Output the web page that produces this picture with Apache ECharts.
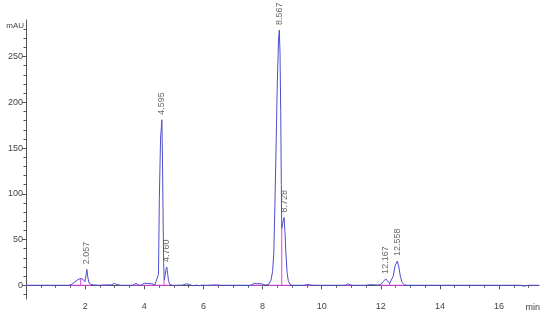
<!DOCTYPE html>
<html lang="en">
<head>
<meta charset="UTF-8">
<title>Chromatogram</title>
<script src="https://cdn.jsdelivr.net/npm/echarts@6/dist/echarts.min.js"></script>
<style>
	html, body { margin: 0; padding: 0; background: #fff; }
	#chart { width: 550px; height: 322px; }
</style>
</head>
<body>
<div id="chart"></div>
<script type="text/javascript">
// signal trace (time in min, signal in mAU)
var times = [0, 0.5, 1.0, 1.45, 1.55, 1.65, 1.75, 1.85, 1.93, 1.99, 2.03, 2.057, 2.09, 2.13, 2.2, 2.3, 2.5, 2.7, 2.9, 2.98,
	3.06, 3.2, 3.6, 3.66, 3.72, 3.78, 3.85, 3.93, 4.0, 4.06, 4.12, 4.18, 4.24, 4.3, 4.36, 4.42, 4.48, 4.51, 4.55, 4.595,
	4.615, 4.635, 4.655, 4.675, 4.70, 4.735, 4.76, 4.79, 4.82, 4.86, 4.95, 5.3, 5.4, 5.46, 5.53, 5.6, 5.68, 5.76, 5.85, 5.95,
	6.1, 6.4, 6.6, 7.6, 7.66, 7.72, 7.78, 7.84, 7.9, 7.96, 8.02, 8.1, 8.2, 8.28, 8.34, 8.38, 8.42, 8.46, 8.50, 8.54,
	8.567, 8.59, 8.615, 8.635, 8.65, 8.69, 8.728, 8.76, 8.79, 8.83, 8.87, 8.93, 9.0, 9.4, 9.5, 9.58, 9.66, 9.8, 10.8, 10.88,
	10.96, 11.05, 11.5, 11.65, 11.75, 11.9, 12.0, 12.08, 12.167, 12.23, 12.30, 12.36, 12.42, 12.48, 12.558, 12.61, 12.66, 12.72, 12.8, 12.9,
	14.0, 16.0, 16.75, 16.82, 16.88, 17.0, 17.05, 17.1, 17.35];
var signal = [0, 0, 0, 0, 1, 3.5, 6, 7.5, 6.5, 4, 11, 17.5, 9, 2.5, 1, 0.3, 0, 0.4, 0.5, 2,
	1, 0, 0, 0.6, 2, 0.3, -0.3, 0.8, 2.2, 0.5, 2, 0.4, 1.8, 2.5, 0.5, 1, 12, 95, 160, 181,
	140, 80, 25, 6, 10, 17, 20, 13, 5, 1, 0, 0.2, 1.5, 2.8, 1, 0, -0.6, 0.3, -0.5, 0.2,
	0, 0.3, 0, 0, 1.2, 2, 0.3, 1.8, 0.5, 1.6, 0.2, 0.3, 1, 5, 15, 35, 90, 155, 222, 268,
	279, 255, 190, 110, 62, 69, 74, 58, 35, 14, 5, 1, 0, 0, 0.6, 0.8, 0.2, 0, 0, 1.6,
	0.6, 0, 0, 0.8, 0.5, 0.3, 1, 4, 7, 5, 2, 3, 10, 21, 26.5, 20, 10, 3, 0.5, 0,
	0, 0, 0, -1, 0, 0, -0.7, 0, 0];

// integrated peaks
var peakLabels = ['2.057', '4.595', '4.760', '8.567', '8.728', '12.167', '12.558'];
var peakTimes = [2.057, 4.595, 4.760, 8.567, 8.728, 12.167, 12.558];
var peakHeights = [17.5, 181, 20, 279, 74, 7, 26.5];

// baseline segments [start, end] and drop lines [time, height]
var baseStart = [1.5, 2.55, 3.6, 4.45, 6.25, 7.6, 8.2, 9.4, 10.75, 11.95];
var baseEnd = [2.2, 2.75, 4.45, 4.87, 6.55, 8.05, 8.95, 9.65, 11.0, 12.8];
var dropTimes = [1.85, 4.67, 8.65, 12.30];
var dropHeights = [7.5, 6, 62, 2];

// axis ticks
var xLabels = [2, 4, 6, 8, 10, 12, 14, 16];
var xMinor = [0.5, 1, 1.5, 2.5, 3, 3.5, 4.5, 5, 5.5, 6.5, 7, 7.5, 8.5, 9, 9.5, 10.5, 11, 11.5, 12.5, 13, 13.5, 14.5, 15, 15.5, 16.5, 17];
var yLabels = [0, 50, 100, 150, 200, 250];
var yMinor = [-10, 10, 20, 30, 40, 60, 70, 80, 90, 110, 120, 130, 140, 160, 170, 180, 190, 210, 220, 230, 240, 260, 270, 280];

var trace = [];
for (var i = 0; i < times.length; i++) {
	trace.push([times[i], signal[i]]);
}
var pink = [];
for (var i = 0; i < baseStart.length; i++) {
	pink.push([baseStart[i], 0], [baseEnd[i], 0], ['-', '-']);
}
for (var i = 0; i < dropTimes.length; i++) {
	pink.push([dropTimes[i], 0], [dropTimes[i], dropHeights[i]], ['-', '-']);
}
var peaks = [];
for (var i = 0; i < peakTimes.length; i++) {
	peaks.push({ name: peakLabels[i], value: [peakTimes[i], peakHeights[i]] });
}

var axisColor = '#555';
var textColor = '#444';
var font = 'Liberation Sans, Arial, sans-serif';

var chart = echarts.init(document.getElementById('chart'));
var option = {
	animation: false,
	grid: { left: 26, right: 11, top: 20, bottom: 23 },
	graphic: [{
		type: 'text', right: 10, top: 303, silent: true,
		style: { text: 'min', fill: textColor, fontSize: 9, fontFamily: font }
	}],
	xAxis: [{
		type: 'value', min: 0, max: 17.35,
		splitLine: { show: false },
		axisLine: { lineStyle: { color: axisColor, width: 1 } },
		axisTick: { customValues: xLabels, length: 4, lineStyle: { color: axisColor } },
		axisLabel: { customValues: xLabels, color: textColor, fontSize: 9, fontFamily: font, margin: 3 }
	}, {
		type: 'value', min: 0, max: 17.35, position: 'bottom',
		splitLine: { show: false },
		axisLine: { show: false },
		axisTick: { customValues: xMinor, length: 2.5, lineStyle: { color: axisColor } },
		axisLabel: { show: false }
	}],
	yAxis: [{
		type: 'value', min: -15, max: 290,
		splitLine: { show: false },
		axisLine: { show: true, lineStyle: { color: axisColor, width: 1 } },
		axisTick: { show: true, customValues: yLabels, length: 4, lineStyle: { color: axisColor } },
		axisLabel: { customValues: yLabels, color: textColor, fontSize: 9, fontFamily: font, margin: 3 },
		name: 'mAU', nameLocation: 'end', nameGap: -6,
		nameTextStyle: { color: textColor, fontSize: 8, fontFamily: font, align: 'right', verticalAlign: 'middle', padding: [0, 2, 0, 0] }
	}, {
		type: 'value', min: -15, max: 290, position: 'left',
		splitLine: { show: false },
		axisLine: { show: false },
		axisTick: { show: true, customValues: yMinor, length: 2.5, lineStyle: { color: axisColor } },
		axisLabel: { show: false }
	}],
	series: [{
		type: 'line',
		data: pink,
		showSymbol: false,
		silent: true,
		lineStyle: { color: '#e040e0', width: 1 }
	}, {
		type: 'line',
		data: trace,
		showSymbol: false,
		silent: true,
		lineStyle: { color: '#4d4dcf', width: 1 }
	}, {
		type: 'scatter',
		data: peaks,
		symbolSize: 0,
		silent: true,
		label: {
			show: true, position: 'top', distance: 5, rotate: 90,
			align: 'left', verticalAlign: 'middle',
			formatter: '{b}', color: textColor, fontSize: 9, fontFamily: font
		}
	}]
};
chart.setOption(option);
</script>
</body>
</html>
